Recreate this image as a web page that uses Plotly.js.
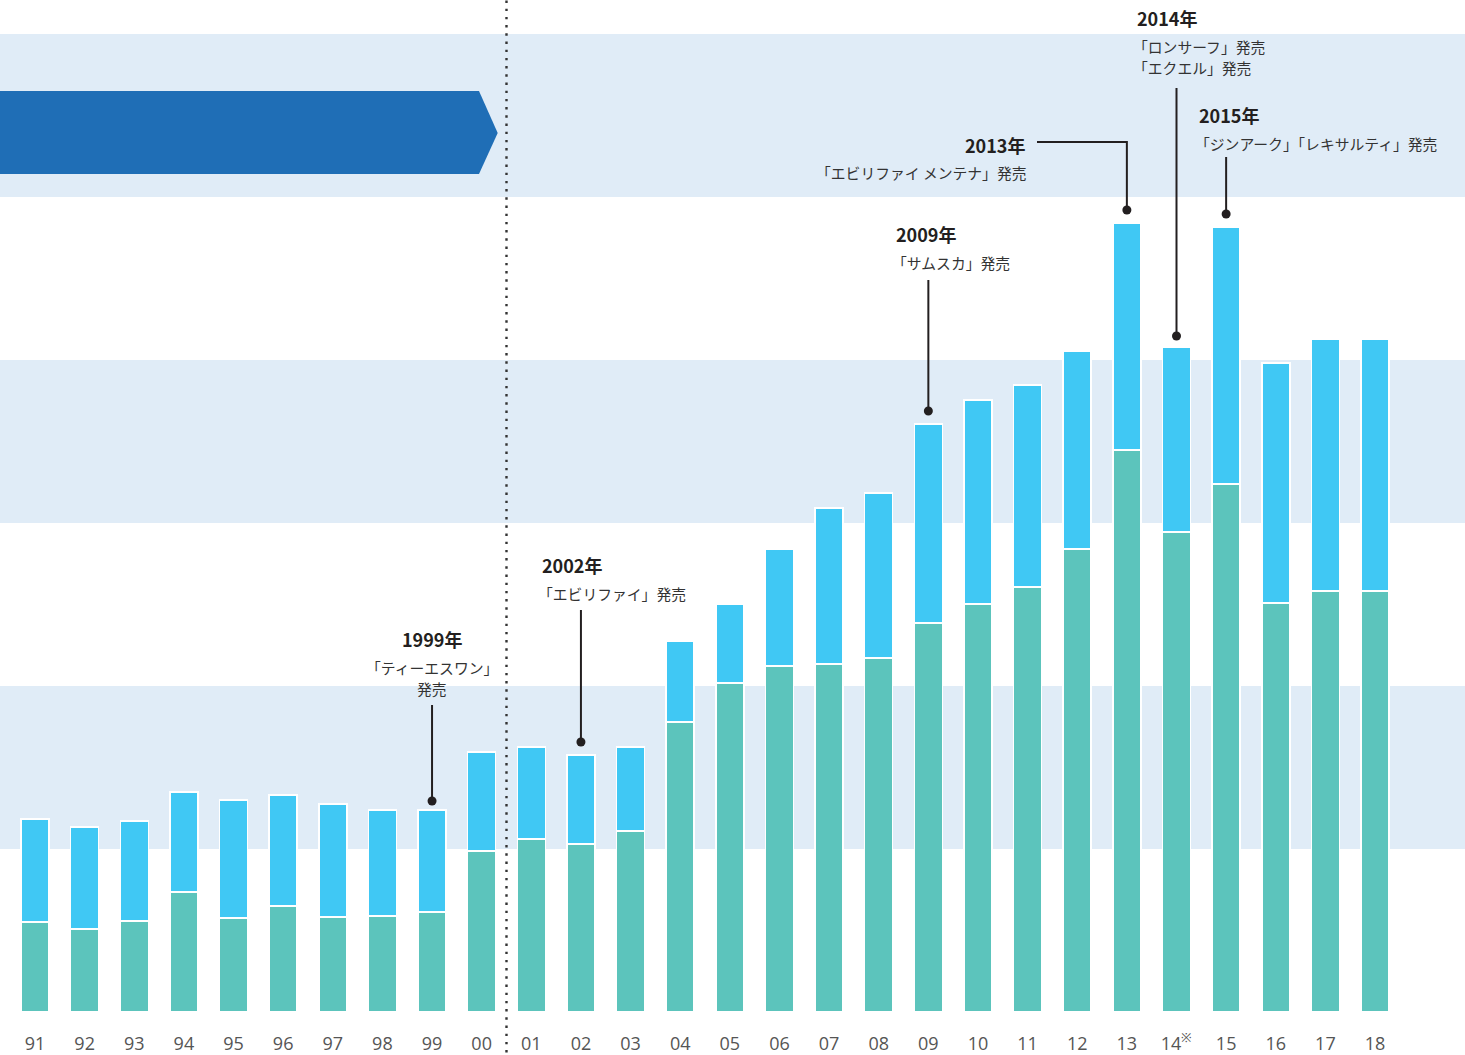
<!DOCTYPE html>
<html>
<head>
<meta charset="utf-8">
<script src="https://cdn.plot.ly/plotly-3.0.1.min.js"></script>
<style>html,body{margin:0;padding:0;background:#fff;}#chart{width:1465px;height:1055px;}</style>
</head>
<body>
<div id="chart"></div>
<script>
// ---- data ----
var categories = ["91","92","93","94","95","96","97","98","99","00","01","02","03","04","05","06","07","08","09","10","11","12","13","14<sup>※</sup>","15","16","17","18"];
var lowerSeries = [552,509,558,736,577,650,583,589,613,988,1061,1031,1110,1779,2018,2123,2135,2172,2387,2503,2607,2840,3448,2945,3239,2509,2583,2583];
var upperSeries = [632,626,614,614,724,681,693,650,626,607,565,546,516,497,485,717,957,1012,1220,1252,1240,1215,1392,1135,1577,1473,1546,1546];
var bandValues = [1000,3000,5000];

// ---- helpers (layout only) ----
var U = 163; // px per 1000
function py(p){ return (1012 - p) / U * 1000; }
function px(p){ return (p - 35) / 49.63; }

var teal = "#5cc4bc", sky = "#40c8f4", band = "#e0ecf7", ink = "#231f20";

var traces = [
  {type:"bar", x:categories, y:lowerSeries, marker:{color:teal, line:{color:"#ffffff", width:1.5}}, hoverinfo:"skip"},
  {type:"bar", x:categories, y:upperSeries, marker:{color:sky, line:{color:"#ffffff", width:1.5}}, hoverinfo:"skip"}
];

var shapes = [];
bandValues.forEach(function(b){
  shapes.push({type:"rect", layer:"below", xref:"paper", yref:"y", x0:0, x1:1, y0:b, y1:b+1000, fillcolor:band, line:{width:0}});
});
// arrow
shapes.push({type:"path", layer:"below", xref:"paper", yref:"y",
  path:"M 0 "+py(91)+" L "+(479/1465)+" "+py(91)+" L "+(497.7/1465)+" "+py(133)+" L "+(479/1465)+" "+py(174)+" L 0 "+py(174)+" Z",
  fillcolor:"#1f6eb6", line:{width:0}});
// dotted divider
shapes.push({type:"line", xref:"x", yref:"paper", x0:9.5, x1:9.5, y0:-0.04, y1:1, line:{color:"#333", width:2.4, dash:"2.4px,5.8px"}});

function leader(pts){
  var d = "M " + pts.map(function(p){return p[0]+" "+p[1];}).join(" L ");
  shapes.push({type:"path", xref:"x", yref:"y", path:d, line:{color:ink, width:2}});
  var e = pts[pts.length-1];
  shapes.push({type:"circle", xref:"x", yref:"y", xsizemode:"pixel", ysizemode:"pixel", xanchor:e[0], yanchor:e[1], x0:-4.5, x1:4.5, y0:-4.5, y1:4.5, fillcolor:ink, line:{width:0}});
}
leader([[8, py(705)], [8, py(801)]]);
leader([[11, py(610)], [11, py(742)]]);
leader([[18, py(280)], [18, py(411)]]);
leader([[px(1037), py(142)], [22, py(142)], [22, py(210)]]);
leader([[23, py(88)], [23, py(336)]]);
leader([[24, py(157)], [24, py(214)]]);

var FJ = "Noto Sans CJK JP";
function ann(x, y, text, anchor, bold){
  return {xref:"x", yref:"y", x:x, y:y, text: bold ? "<b>"+text+"</b>" : text, showarrow:false,
    xanchor:anchor, yanchor:"middle",
    font:{family:FJ, size: bold ? 18 : 14.8, color: bold ? ink : "#333"}};
}
var annotations = [
  ann(8, py(639), "1999年", "center", true),
  ann(8, py(667), "「ティーエスワン」", "center", false),
  ann(8, py(688), "発売", "center", false),
  ann(px(540), py(565), "2002年", "left", true),
  ann(px(536), py(593), "「エビリファイ」発売", "left", false),
  ann(px(894), py(234), "2009年", "left", true),
  ann(px(890), py(262), "「サムスカ」発売", "left", false),
  ann(px(1027), py(145), "2013年", "right", true),
  ann(px(1028), py(172), "「エビリファイ メンテナ」発売", "right", false),
  ann(px(1135), py(18), "2014年", "left", true),
  ann(px(1131), py(46), "「ロンサーフ」発売", "left", false),
  ann(px(1131), py(67), "「エクエル」発売", "left", false),
  ann(px(1197), py(115), "2015年", "left", true),
  ann(px(1193), py(143), "「ジンアーク」「レキサルティ」発売", "left", false)
];

var layout = {
  width:1465, height:1055,
  margin:{l:0, r:0, t:0, b:43, pad:0},
  paper_bgcolor:"#ffffff", plot_bgcolor:"rgba(0,0,0,0)",
  barmode:"stack", bargap:0.436,
  showlegend:false, hovermode:false,
  xaxis:{type:"category", range:[-0.7052, 28.813], showgrid:false, zeroline:false, showline:false,
    ticks:"", ticklabelstandoff:19, tickfont:{family:"Open Sans", size:18, color:"#555"}, fixedrange:true},
  yaxis:{range:[0, 1012/U*1000], visible:false, showgrid:false, zeroline:false, fixedrange:true},
  shapes:shapes,
  annotations:annotations
};

Plotly.newPlot("chart", traces, layout, {displayModeBar:false, staticPlot:true});
</script>
</body>
</html>
